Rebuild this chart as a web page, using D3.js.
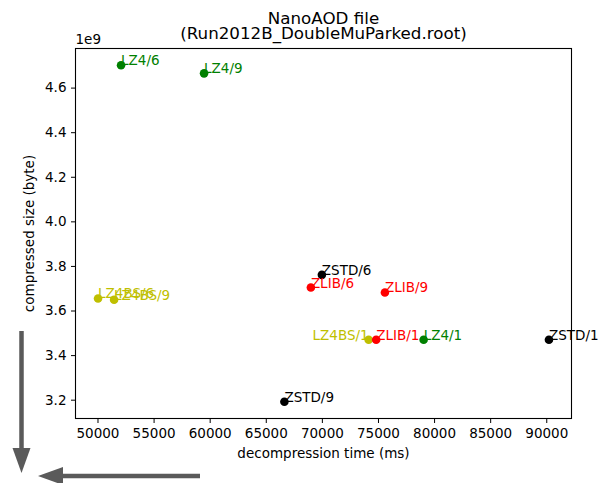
<!DOCTYPE html>
<html>
<head>
<meta charset="utf-8">
<script src="https://cdn.jsdelivr.net/npm/d3@7"></script>
<style>
  html, body { margin: 0; padding: 0; background: #fff; }
  svg { display: block; font-family: "DejaVu Sans", sans-serif; }
</style>
</head>
<body>
<svg id="chart" width="601" height="483"></svg>
<script>
// ---- data ----
const pointLabels = ["LZ4/1","LZ4/6","LZ4/9","LZ4BS/1","LZ4BS/6","LZ4BS/9","ZLIB/1","ZLIB/6","ZLIB/9","ZSTD/1","ZSTD/6","ZSTD/9"];
const decompressionMs = [79070, 52100, 59500, 74170, 50050, 51480, 74840, 69020, 75620, 90240, 70000, 66660];
const compressedBytes = [3.469e9, 4.700e9, 4.664e9, 3.469e9, 3.654e9, 3.648e9, 3.469e9, 3.703e9, 3.681e9, 3.469e9, 3.760e9, 3.191e9];
const xTicks = [50000, 55000, 60000, 65000, 70000, 75000, 80000, 85000, 90000];
const yTicks = [3.2e9, 3.4e9, 3.6e9, 3.8e9, 4.0e9, 4.2e9, 4.4e9, 4.6e9];
const titleLines = ["NanoAOD file", "(Run2012B_DoubleMuParked.root)"];
const xLabel = "decompression time (ms)";
const yLabel = "compressed size (byte)";
const drawOrder = ["LZ4", "LZ4BS", "ZLIB", "ZSTD"];

// ---- styles ----
const algoColor = { "LZ4": "#008000", "LZ4BS": "#bfbf00", "ZLIB": "#ff0000", "ZSTD": "#000000" };
const labelAnchor = { "LZ4BS/1": "end" };
const box = { left: 75.5, right: 571.5, top: 48.5, bottom: 418.5 };
const fs = 13.5, titleFs = 16.7;

const data = pointLabels.map((l, i) => ({ label: l, algo: l.split("/")[0], x: decompressionMs[i], y: compressedBytes[i] }));
data.sort((a, b) => drawOrder.indexOf(a.algo) - drawOrder.indexOf(b.algo));

function padded(ext) { const r = ext[1] - ext[0]; return [ext[0] - 0.05 * r, ext[1] + 0.05 * r]; }
const x = d3.scaleLinear().domain(padded(d3.extent(decompressionMs))).range([box.left, box.right]);
const y = d3.scaleLinear().domain(padded(d3.extent(compressedBytes))).range([box.bottom, box.top]);

const svg = d3.select("#chart");

// axes
const xAxis = d3.axisBottom(x).tickValues(xTicks).tickFormat(d3.format("d")).tickSizeInner(4.5).tickSizeOuter(0).tickPadding(5);
const yAxis = d3.axisLeft(y).tickValues(yTicks).tickFormat(d => (d / 1e9).toFixed(1)).tickSizeInner(4.5).tickSizeOuter(0).tickPadding(4.5);

const gx = svg.append("g").attr("transform", `translate(0,${box.bottom})`).call(xAxis);
const gy = svg.append("g").attr("transform", `translate(${box.left},0)`).call(yAxis);
[gx, gy].forEach(g => {
  g.select(".domain").remove();
  g.selectAll("line").attr("stroke", "#000").attr("stroke-width", 1);
  g.selectAll("text").attr("fill", "#000").style("font-family", "DejaVu Sans").style("font-size", fs + "px");
});

// frame
svg.append("rect").attr("x", box.left).attr("y", box.top)
  .attr("width", box.right - box.left).attr("height", box.bottom - box.top)
  .attr("fill", "none").attr("stroke", "#000").attr("stroke-width", 1.1);

// offset text
svg.append("text").attr("x", box.left).attr("y", 44).attr("font-size", fs).attr("fill", "#000").text("1e9");

// title
svg.append("g").selectAll("text").data(titleLines).join("text")
  .attr("x", (box.left + box.right) / 2).attr("y", (d, i) => 23.5 + i * 15.5)
  .attr("text-anchor", "middle").attr("font-size", titleFs).attr("fill", "#000").text(d => d);

// axis labels
svg.append("text").attr("x", (box.left + box.right) / 2).attr("y", 458)
  .attr("text-anchor", "middle").attr("font-size", fs).attr("fill", "#000").text(xLabel);
svg.append("text").attr("transform", `translate(34,${(box.top + box.bottom) / 2}) rotate(-90)`)
  .attr("text-anchor", "middle").attr("font-size", fs).attr("fill", "#000").text(yLabel);

// markers
svg.append("g").selectAll("circle").data(data).join("circle")
  .attr("cx", d => x(d.x)).attr("cy", d => y(d.y)).attr("r", 4.3)
  .attr("fill", d => algoColor[d.algo]);

// point labels
svg.append("g").selectAll("text").data(data).join("text")
  .attr("x", d => x(d.x)).attr("y", d => y(d.y))
  .attr("text-anchor", d => labelAnchor[d.label] || "start")
  .attr("font-size", fs).attr("fill", d => algoColor[d.algo]).text(d => d.label);

// gray direction arrows
const arrowColor = "#5a5a5a";
svg.append("line").attr("x1", 21.5).attr("y1", 331).attr("x2", 21.5).attr("y2", 450)
  .attr("stroke", arrowColor).attr("stroke-width", 4.5);
svg.append("path").attr("d", "M12.5,448 L30.5,448 L21.5,473 Z").attr("fill", arrowColor);
svg.append("line").attr("x1", 200).attr("y1", 476).attr("x2", 60).attr("y2", 476)
  .attr("stroke", arrowColor).attr("stroke-width", 4.5);
svg.append("path").attr("d", "M63,467 L63,485 L38,476 Z").attr("fill", arrowColor);
</script>
</body>
</html>
